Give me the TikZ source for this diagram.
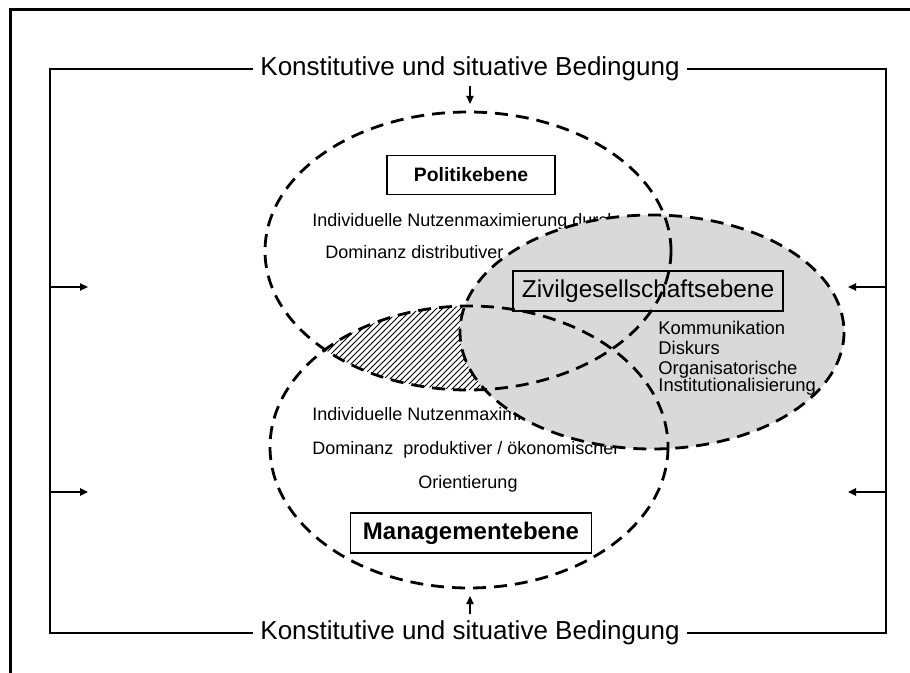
\documentclass[tikz,border=0pt]{standalone}
\usepackage{fontspec}
\setmainfont{Liberation Sans}
\usepackage{xcolor}
\usetikzlibrary{arrows.meta,positioning,patterns}
\definecolor{civil}{HTML}{D9D9D9}
\definecolor{ink}  {HTML}{000000}

\tikzset{
  levelline/.style={draw=ink,line width=1.4pt,dash pattern=on 6.5pt off 4pt},
  condtext/.style={font=\fontsize{13}{15}\selectfont,inner xsep=3.5pt,inner ysep=0pt},
  bodytext/.style={font=\fontsize{9}{11}\selectfont,inner sep=0pt,anchor=west},
  listtext/.style={font=\fontsize{9.2}{11}\selectfont,inner sep=0pt,anchor=west},
  levelbox/.style={draw=ink,line width=0.8pt,inner sep=0pt,minimum height=20pt},
  push/.style={-{Triangle[length=4pt,width=3.6pt]},line width=0.6pt}
}

\begin{document}
\begin{tikzpicture}[x=0.5pt,y=-0.5pt]
  \useasboundingbox (0,0) rectangle (910,673);
  \draw[line width=1.5pt] (10,673) -- (10,10) -- (910,10);

  \coordinate (pol) at (468,251);
  \coordinate (man) at (469,447);
  \coordinate (civ) at (652,332);

  \begin{scope}
    \clip (pol) ellipse [x radius=203,y radius=139];
    \fill[pattern=north east lines] (man) ellipse [x radius=199,y radius=141];
  \end{scope}

  \node[bodytext] (polA) at (312,222) {Individuelle Nutzenmaximierung durch};
  \node[bodytext] (polB) at (325,252) {Dominanz distributiver};
  \node[bodytext] (manA) at (312,416) {Individuelle Nutzenmaximierung};
  \node[bodytext] (manB) at (312,450) {Dominanz\ \ produktiver / ökonomischer};
  \node[bodytext,anchor=center] (manC) at (468,484) {Orientierung};

  \fill[civil] (civ) ellipse [x radius=192,y radius=117];
  \node[levelbox,font=\fontsize{12.2}{14}\selectfont,minimum width=135pt]
    (civbox) at (648,291) {Zivilgesellschaftsebene};
  \node[listtext] (civA) at (658,328) {Kommunikation};
  \node[listtext] (civB) at (658,348) {Diskurs};
  \node[listtext] (civC) at (658,370) {Organisatorische};
  \node[listtext] (civD) at (658,387) {Institutionalisierung};

  \draw[levelline] (pol) ellipse [x radius=203,y radius=139];
  \draw[levelline] (man) ellipse [x radius=199,y radius=141];
  \draw[levelline] (civ) ellipse [x radius=192,y radius=117];

  \node[levelbox,fill=white,font=\bfseries\fontsize{9.7}{12}\selectfont,
        minimum width=84pt,minimum height=19.5pt] (polbox) at (471,175) {Politikebene};
  \node[levelbox,fill=white,font=\bfseries\fontsize{12}{14}\selectfont,
        minimum width=120.5pt] (manbox) at (471,533) {Managementebene};

  \node[condtext] (topcond) at (470,69) {Konstitutive und situative Bedingung};
  \node[condtext] (botcond) at (470,633) {Konstitutive und situative Bedingung};
  \coordinate (tl) at (50,69);
  \coordinate (tr) at (886,69);
  \coordinate (bl) at (50,633);
  \coordinate (br) at (886,633);
  \draw[line width=0.75pt] (topcond.west) -- (tl) -- (bl) -- (botcond.west);
  \draw[line width=0.75pt] (topcond.east) -- (tr) -- (br) -- (botcond.east);

  \coordinate (topout) at (470,86);
  \coordinate (topin)  at (470,104);
  \coordinate (botout) at (470,614);
  \coordinate (botin)  at (470,596);
  \draw[push] (topout) -- (topin);
  \draw[push] (botout) -- (botin);

  \coordinate (lA) at (50,287);  \coordinate (lAe) at (88,287);
  \coordinate (lB) at (50,492);  \coordinate (lBe) at (88,492);
  \coordinate (rA) at (886,287); \coordinate (rAe) at (848,287);
  \coordinate (rB) at (886,492); \coordinate (rBe) at (848,492);
  \draw[push] (lA) -- (lAe);
  \draw[push,line width=0.9pt] (lB) -- (lBe);
  \draw[push] (rA) -- (rAe);
  \draw[push,line width=0.9pt] (rB) -- (rBe);
\end{tikzpicture}
\end{document}
